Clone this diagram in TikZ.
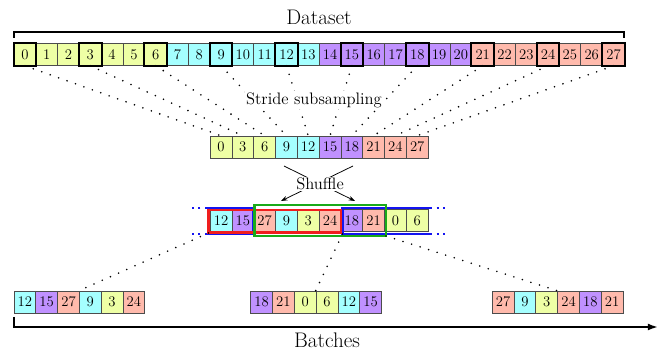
\documentclass[tikz,border=0pt]{standalone}
\usetikzlibrary{arrows.meta,calc}
\definecolor{g0}{RGB}{238,255,165}
\definecolor{g1}{RGB}{165,255,255}
\definecolor{g2}{RGB}{192,145,255}
\definecolor{g3}{RGB}{255,186,172}
\definecolor{cblue}{RGB}{20,20,240}
\definecolor{cred}{RGB}{240,30,30}
\definecolor{cgreen}{RGB}{25,170,25}
\begin{document}
\begin{tikzpicture}[x=0.0275cm,y=-0.0275cm,
  cell/.style={draw=black!70,line width=0.6pt,minimum size=0.6cm,inner sep=0pt,
    font=\fontsize{11.5}{13}\selectfont},
  hl/.style={line width=1.6pt,draw=black},
  dots/.style={line width=1.4pt,line cap=round,dash pattern=on 0pt off 7pt},
  label/.style={fill=white,inner sep=1pt,font=\fontsize{13}{15}\selectfont},
  title/.style={inner sep=0pt,font=\fontsize{16.5}{19}\selectfont},
  bracket/.style={line width=1.4pt},
  bluebox/.style={draw=cblue,line width=1.6pt},
  bluedots/.style={draw=cblue,line width=1.6pt,dash pattern=on 1.6pt off 3.6pt},
  redbox/.style={draw=cred,line width=1.6pt},
  greenbox/.style={draw=cgreen,line width=1.6pt},
  shufarrow/.style={line width=0.6pt,-{Stealth[length=5pt,width=3.5pt]}}
]
\useasboundingbox (0,0) rectangle (664,352);

% top row
\foreach \i in {0,...,27}{
  \pgfmathtruncatemacro\g{\i/7}
  \node[cell,fill=g\g] (t\i) at ({24.9+21.8*\i},54.5) {\i};
}
\foreach \i in {0,3,...,27}{
  \draw[hl] (t\i.north west) rectangle (t\i.south east);
}

% bracket + Dataset
\coordinate (dl) at (14,38);
\coordinate (dr) at (624,38);
\draw[bracket] (dl) -- (14,32) -- (624,32) -- (dr);
\node[title] (dataset) at (319,17) {Dataset};

% subsampled row
\foreach \v [count=\k from 0] in {0,3,6,9,12,15,18,21,24,27}{
  \pgfmathtruncatemacro\g{\v/7}
  \node[cell,fill=g\g] (s\k) at ({221+21.8*\k},147) {\v};
}
\foreach \k in {0,...,9}{
  \pgfmathtruncatemacro\i{3*\k}
  \draw[dots] (t\i.south) -- (s\k.north);
}
\node[label] (stride) at (314,100) {Stride subsampling};

% shuffle
\coordinate (x1) at (284,166);
\coordinate (x2) at (355,201);
\coordinate (x3) at (353,166);
\coordinate (x4) at (281,201);
\draw[shufarrow] (x1) -- (x2);
\draw[shufarrow] (x3) -- (x4);
\node[label] (shuf) at (320,184) {Shuffle};

% shuffled row
\foreach \v [count=\k from 1] in {12,15,27,9,3,24,18,21,0,6}{
  \pgfmathtruncatemacro\g{\v/7}
  \node[cell,fill=g\g] (u\k) at ({221+21.8*(\k-1)},220.5) {\v};
}

% blue (wrapping batch)
\draw[bluebox] (207,208) -- (252.7,208) -- (252.7,234) -- (207,234);
\draw[bluedots] (207,208) -- (191,208);
\draw[bluedots] (207,234) -- (191,234);
\draw[bluebox] (430,208) -- (342.5,208) -- (342.5,234) -- (430,234);
\draw[bluedots] (430,208) -- (446,208);
\draw[bluedots] (430,234) -- (446,234);
% red
\draw[redbox] (208.5,210) rectangle (341,232.5);
% green
\draw[greenbox] (254.5,205) rectangle (386,236);

\coordinate (rSW) at (208.5,233);
\coordinate (bSW) at (342.5,234);
\coordinate (gSE) at (386,236);

% batches
\foreach \v [count=\k from 1] in {12,15,27,9,3,24}{
  \pgfmathtruncatemacro\g{\v/7}
  \node[cell,fill=g\g] (pa\k) at ({24.9+21.8*(\k-1)},302) {\v};
}
\foreach \v [count=\k from 1] in {18,21,0,6,12,15}{
  \pgfmathtruncatemacro\g{\v/7}
  \node[cell,fill=g\g] (pb\k) at ({261.6+21.8*(\k-1)},302) {\v};
}
\foreach \v [count=\k from 1] in {27,9,3,24,18,21}{
  \pgfmathtruncatemacro\g{\v/7}
  \node[cell,fill=g\g] (pc\k) at ({503.1+21.8*(\k-1)},302) {\v};
}
\draw[dots] (rSW) -- (pa4.north west);
\draw[dots] (bSW) -- (pb4.north west);
\draw[dots] (gSE) -- (pc4.north west);

% batches axis
\coordinate (bl) at (14,317);
\coordinate (br) at (658,327);
\draw[bracket,-{Latex[length=8pt,width=5.5pt]}] (bl) -- (14,327) -- (br);
\node[title] (batches) at (327,340) {Batches};
\end{tikzpicture}
\end{document}
